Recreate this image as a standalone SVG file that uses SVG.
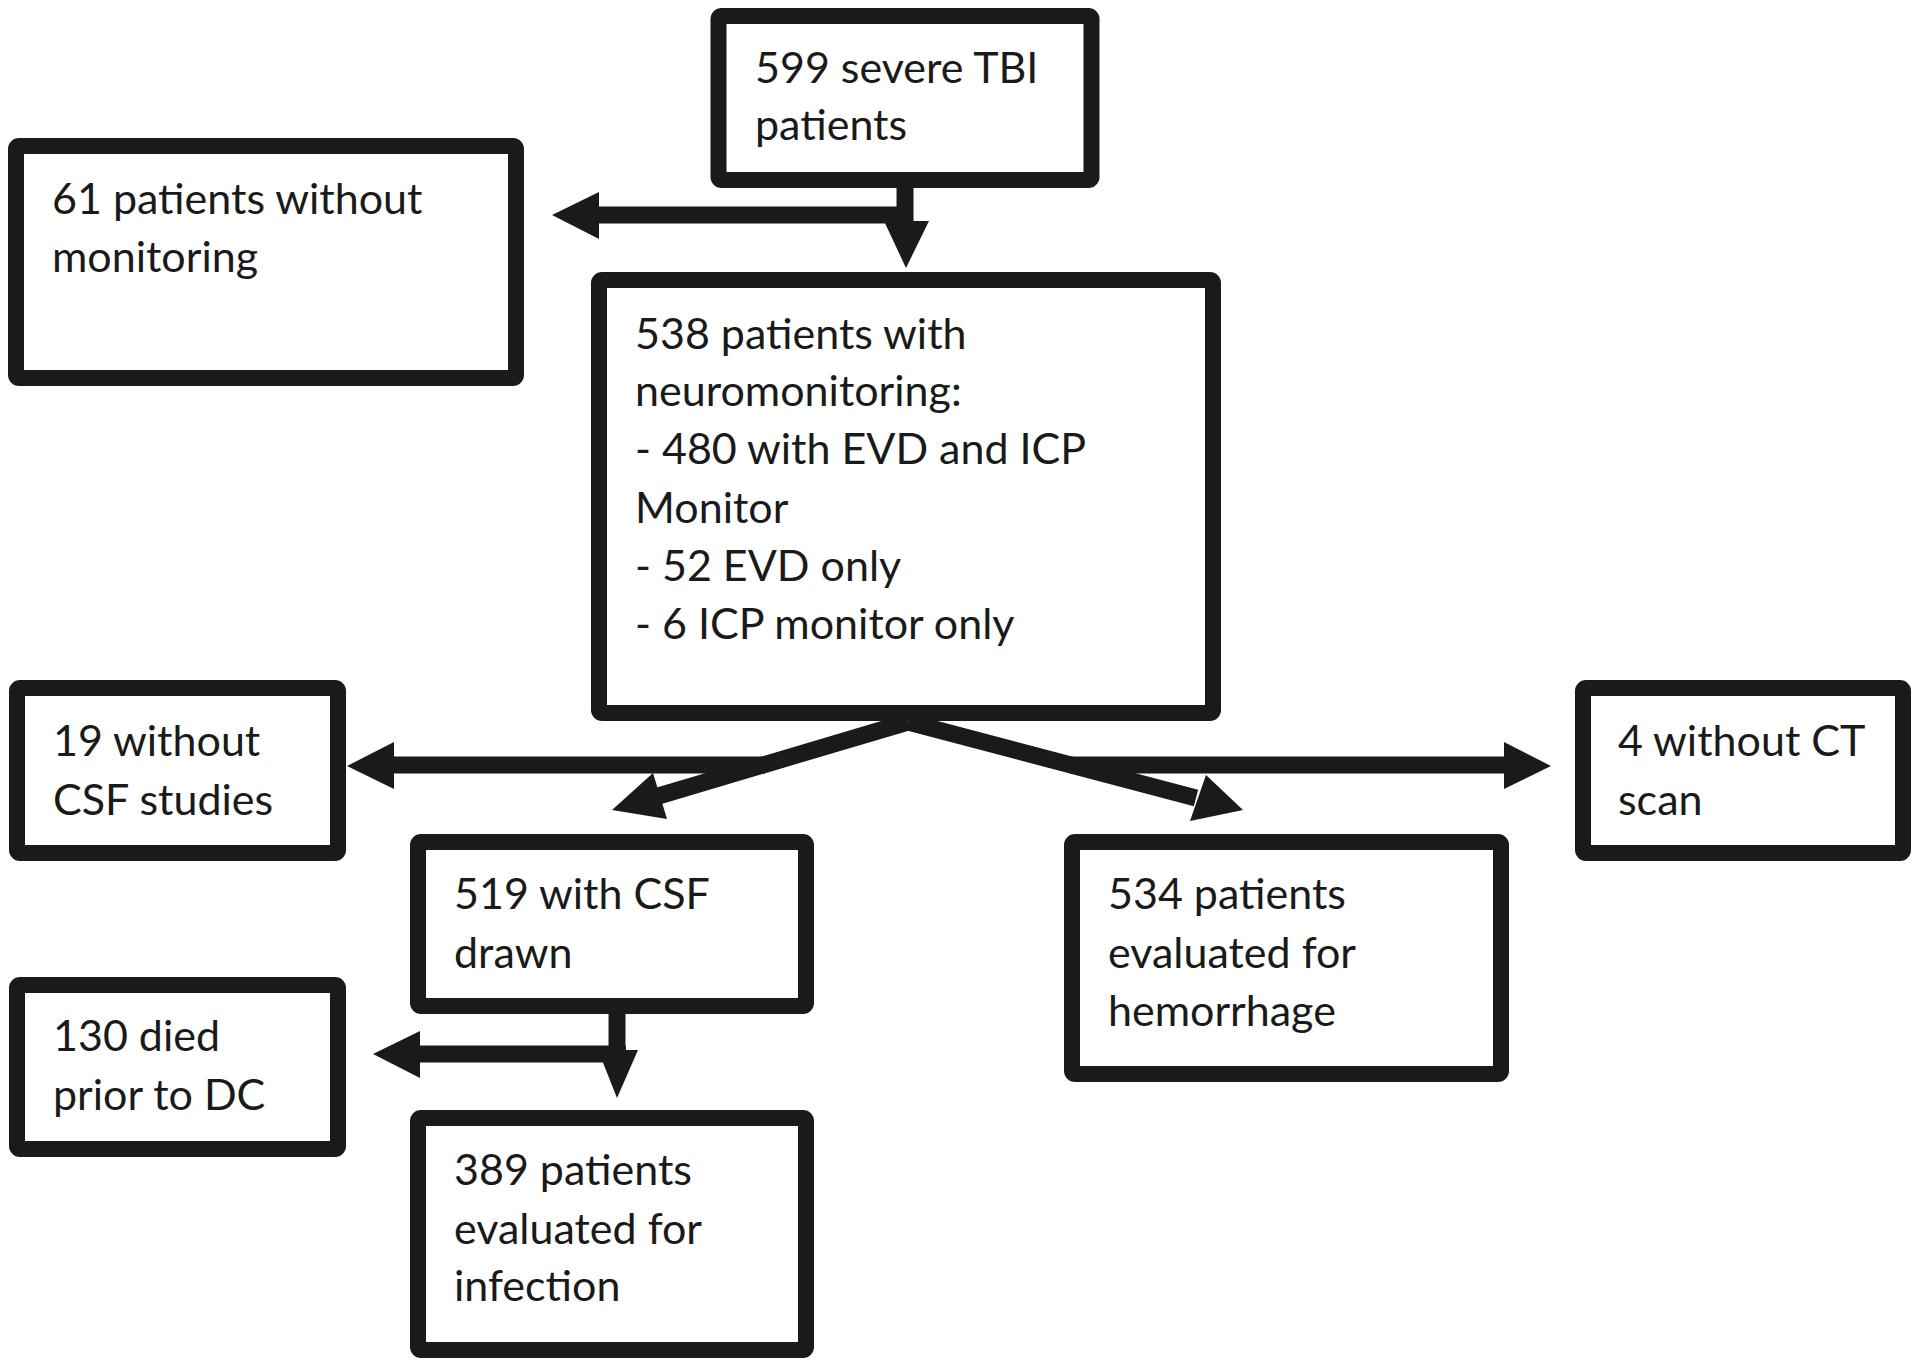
<svg xmlns="http://www.w3.org/2000/svg" width="1920" height="1365" viewBox="0 0 1920 1365">
<style>
.box{fill:#fff;stroke:#1a1a1a;stroke-width:16}
.t{font-family:Lato,"Liberation Sans",sans-serif;font-size:43px;fill:#1a1a1a}
.ln{stroke:#1a1a1a;stroke-width:17;fill:none}
.ah{fill:#1a1a1a;stroke:none}
</style>
<rect width="1920" height="1365" fill="#fff"/>
<g id="connectors">
<line class="ln" x1="905" y1="180" x2="905" y2="225"/>
<polygon class="ah" points="884,221 929,221 906,268"/>
<line class="ln" x1="913" y1="215" x2="595" y2="215"/>
<polygon class="ah" points="599,192 599,239 552,215"/>
<line class="ln" x1="908" y1="722" x2="655" y2="797"/>
<polygon class="ah" points="653,773 667,819 612,810"/>
<line class="ln" x1="908" y1="722" x2="1196" y2="798"/>
<polygon class="ah" points="1206,775 1190,821 1243,810"/>
<line class="ln" x1="765" y1="765" x2="390" y2="765"/>
<polygon class="ah" points="394,742 394,789 347,766"/>
<line class="ln" x1="1070" y1="765" x2="1508" y2="765"/>
<polygon class="ah" points="1504,742 1504,789 1551,766"/>
<line class="ln" x1="617" y1="1006" x2="617" y2="1055"/>
<polygon class="ah" points="598,1050 638,1050 617,1098"/>
<line class="ln" x1="626" y1="1054" x2="416" y2="1054"/>
<polygon class="ah" points="420,1031 420,1078 373,1054"/>
</g>
<g id="n599">
<rect class="box" x="718.5" y="16" width="373" height="164" rx="3"/>
<text class="t" x="755" y="83">599 severe TBI</text>
<text class="t" x="755" y="140">patients</text>
</g>
<g id="n61">
<rect class="box" x="16" y="146" width="500" height="232" rx="3"/>
<text class="t" x="52" y="214">61 patients without</text>
<text class="t" x="52" y="272">monitoring</text>
</g>
<g id="n538">
<rect class="box" x="599" y="280" width="614" height="433" rx="3"/>
<text class="t" x="635" y="349">538 patients with</text>
<text class="t" x="635" y="406">neuromonitoring:</text>
<text class="t" x="635" y="464">- 480 with EVD and ICP</text>
<text class="t" x="635" y="523">Monitor</text>
<text class="t" x="635" y="581">- 52 EVD only</text>
<text class="t" x="635" y="639">- 6 ICP monitor only</text>
</g>
<g id="n19">
<rect class="box" x="17" y="688" width="321" height="165" rx="3"/>
<text class="t" x="53" y="756">19 without</text>
<text class="t" x="53" y="815">CSF studies</text>
</g>
<g id="n4">
<rect class="box" x="1583" y="688" width="320" height="165" rx="3"/>
<text class="t" x="1618" y="756">4 without CT</text>
<text class="t" x="1618" y="815">scan</text>
</g>
<g id="n519">
<rect class="box" x="418" y="842" width="388" height="164" rx="3"/>
<text class="t" x="454" y="909">519 with CSF</text>
<text class="t" x="454" y="968">drawn</text>
</g>
<g id="n534">
<rect class="box" x="1072" y="842" width="429" height="232" rx="3"/>
<text class="t" x="1108" y="909">534 patients</text>
<text class="t" x="1108" y="968">evaluated for</text>
<text class="t" x="1108" y="1026">hemorrhage</text>
</g>
<g id="n130">
<rect class="box" x="17" y="985" width="321" height="164" rx="3"/>
<text class="t" x="53" y="1051">130 died</text>
<text class="t" x="53" y="1110">prior to DC</text>
</g>
<g id="n389">
<rect class="box" x="418" y="1118" width="388" height="232" rx="3"/>
<text class="t" x="454" y="1185">389 patients</text>
<text class="t" x="454" y="1244">evaluated for</text>
<text class="t" x="454" y="1301">infection</text>
</g>
</svg>
